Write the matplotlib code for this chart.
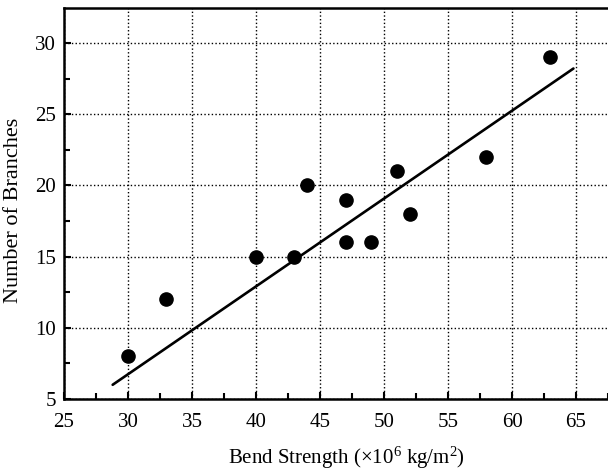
import matplotlib
matplotlib.use('Agg')
import matplotlib.pyplot as plt
from matplotlib.ticker import MultipleLocator

# bend strength vs number of branches
strength = [30, 33, 40, 43, 44, 47, 47, 49, 51, 52, 58, 63]
branches = [8, 12, 15, 15, 20, 19, 16, 16, 21, 18, 22, 29]

# fitted line as drawn in the figure
fit_x = [28.8, 64.8]
fit_y = [6.0, 28.2]

plt.rcParams['font.family'] = ['Liberation Serif', 'DejaVu Serif']
plt.rcParams['mathtext.default'] = 'regular'

fig = plt.figure(figsize=(6.08, 4.70), dpi=100)
ax = fig.add_axes([0.1053, 0.151, 0.8947, 0.832])

ax.plot(fit_x, fit_y, color='black', lw=1.9, solid_capstyle='round', zorder=3)
ax.plot(strength, branches, 'o', color='black', ms=9.5, zorder=4)

ax.set_xlim(25, 67.5)
ax.set_ylim(5, 32.45)
ax.xaxis.set_major_locator(MultipleLocator(5))
ax.xaxis.set_minor_locator(MultipleLocator(2.5))
ax.yaxis.set_major_locator(MultipleLocator(5))
ax.yaxis.set_minor_locator(MultipleLocator(2.5))

ax.grid(True, which='major', linestyle=':', color='black', lw=1.0)
ax.tick_params(which='both', direction='in', labelsize=15, width=1.5,
               top=False, right=False)
ax.tick_params(which='major', length=5)
ax.tick_params(which='minor', length=4)
ax.tick_params(axis='x', which='major', pad=10)
ax.tick_params(axis='y', which='major', pad=6)

for side in ['left', 'bottom', 'top']:
    ax.spines[side].set_linewidth(1.8)
ax.spines['right'].set_visible(False)

ax.set_xlabel('Bend Strength (×10$^6$ kg/m$^2$)', fontsize=15)
ax.set_ylabel('Number of Branches', fontsize=16)
ax.xaxis.set_label_coords(0.52, -0.118)
ax.yaxis.set_label_coords(-0.075, 0.483)

fig.savefig('out.png', dpi=100)
